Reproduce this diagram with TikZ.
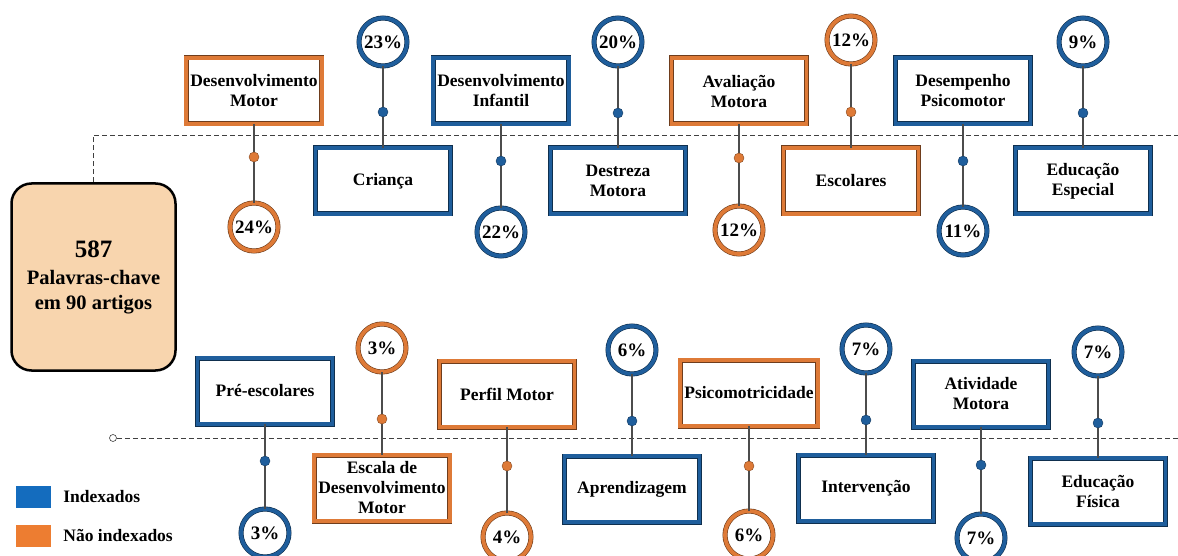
\documentclass[tikz,border=0pt]{standalone}
\usepackage{fontspec}
\setmainfont{Liberation Serif}
\usetikzlibrary{positioning}

\definecolor{idxblue}{HTML}{1F5E9C}
\definecolor{naoorange}{HTML}{DE7A37}
\definecolor{keytan}{HTML}{F8D5AE}
\definecolor{legblue}{HTML}{146CBE}
\definecolor{legorange}{HTML}{ED7D31}

\begin{document}
\begin{tikzpicture}[
    x=1pt, y=-1pt,
    ring/.style={draw=#1!50!black, double=#1, line width=0.6pt, double distance=3.8pt},
    kwbox/.style={rectangle, fill=white, align=center, inner xsep=4pt,
      minimum width=135pt, minimum height=66pt,
      font=\fontsize{17.5}{20}\selectfont\bfseries},
    pctcirc/.style={circle, fill=white, inner sep=0pt, minimum size=48pt,
      font=\fontsize{19}{21}\selectfont\bfseries},
    dot/.style={circle, fill=#1, draw=#1!60!black, line width=0.4pt,
      inner sep=0pt, minimum size=10pt},
    stem/.style={draw=black!70, line width=1.2pt},
    guide/.style={draw=black!75, line width=0.8pt, dash pattern=on 5pt off 3pt},
    legsq/.style={rectangle, minimum width=35pt, minimum height=22pt, inner sep=0pt},
    legtxt/.style={font=\fontsize{17.5}{20}\selectfont\bfseries, inner sep=2pt},
  ]
  \useasboundingbox (0,0) rectangle (1178,556);

  % Central box
  \node[rectangle, rounded corners=20pt, fill=keytan, draw=black, line width=2.5pt,
    minimum width=164pt, minimum height=187pt, align=center,
    font=\fontsize{20.5}{25}\selectfont\bfseries] (kw) at (93.5,277)
    {{\fontsize{25}{28}\selectfont 587}\\[2pt]
     Palavras-chave\\
     em 90 artigos};

  % Time lines
  \coordinate (topend) at (1180,135);
  \coordinate (botend) at (1180,438);
  \draw[guide] (kw.north) |- (topend);
  \node[circle, draw=black!75, fill=white, line width=0.6pt, inner sep=0pt,
    minimum size=7pt] (start) at (113,438) {};
  \draw[guide] (start) -- (botend);

  % Keywords: name / x / box y / circle y / dot y / colour / text / share
  \foreach \n/\x/\by/\cy/\dy/\c/\txt/\p in {
      1/254/91/227/157/naoorange/{Desenvolvimento\\Motor}/24,
      2/383/181/42/112/idxblue/{Criança}/23,
      3/501/91/232/161/idxblue/{Desenvolvimento\\Infantil}/22,
      4/618/181/42/113/idxblue/{Destreza\\Motora}/20,
      5/739/91/230/158/naoorange/{Avaliação\\Motora}/12,
      6/851/181/40/112/naoorange/{Escolares}/12,
      7/963/91/231/161/idxblue/{Desempenho\\Psicomotor}/11,
      8/1083/181/42/113/idxblue/{Educação\\Especial}/9,
      9/265/391/533/461/idxblue/{Pré-escolares}/3,
      10/382/488/348/419/naoorange/{Escala de\\Desenvolvimento\\Motor}/3,
      11/507/394/537/466/naoorange/{Perfil Motor}/4,
      12/632/489/350/421/idxblue/{Aprendizagem}/6,
      13/749/393/535/466/naoorange/{Psicomotricidade}/6,
      14/866/488/349/420/idxblue/{Intervenção}/7,
      15/981/394/538/465/idxblue/{Atividade\\Motora}/7,
      16/1098/491/352/423/idxblue/{Educação\\Física}/7}
  {
    \node[kwbox, ring=\c] (k\n) at (\x,\by) {\txt};
    \node[pctcirc, ring=\c] (p\n) at (\x,\cy) {\p\%};
    \draw[stem] (k\n) -- (p\n);
    \node[dot=\c] (d\n) at (\x,\dy) {};
  }

  % Legend
  \node[legsq, fill=legblue] (lgb) at (33.5,497) {};
  \node[legtxt, right=10pt of lgb] (lgbt) {Indexados};
  \node[legsq, fill=legorange] (lgo) at (33.5,535.5) {};
  \node[legtxt, right=10pt of lgo] (lgot) {Não indexados};
\end{tikzpicture}
\end{document}
